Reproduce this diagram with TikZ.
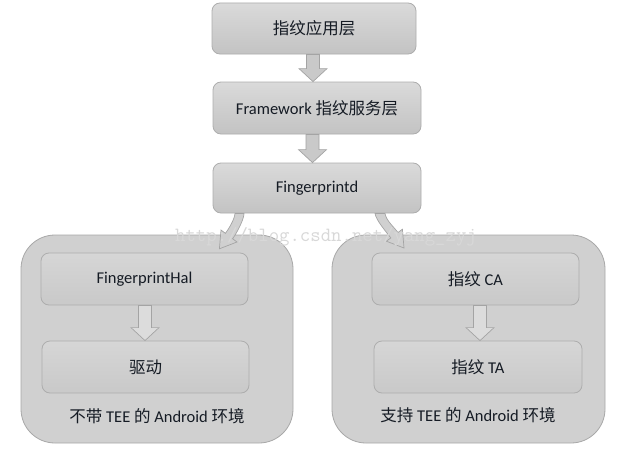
\documentclass[tikz,border=0pt]{standalone}
\usepackage{fontspec}
\setmainfont{Carlito}
\newfontfamily\cjk{Noto Sans CJK SC}
\usetikzlibrary{calc}
\definecolor{txt}{HTML}{151B24}
\definecolor{boxline}{HTML}{ADADAD}
\definecolor{boxtop}{HTML}{DADADA}
\definecolor{boxbot}{HTML}{C3C3C3}
\definecolor{contfill}{HTML}{D0D0D0}
\definecolor{contline}{HTML}{A8A8A8}
\definecolor{intop}{HTML}{D6D6D6}
\definecolor{inbot}{HTML}{C9C9C9}
\definecolor{arrfill}{HTML}{C9C9C9}
\definecolor{arrline}{HTML}{A4A4A4}
\definecolor{inarrfill}{HTML}{DCDCDC}
\definecolor{wm}{HTML}{D8D8D8}
% block arrow from #1.south to #2.north with x offset #3 and style #4
\newcommand\blockarr[4]{%
  \path[#4] let \p1=($(#1.south)+(#3,0)$), \p2=(#2.north) in
    (\x1-6.5pt,\y1) -- (\x1+6.5pt,\y1) -- (\x1+6.5pt,\y2+13pt) -- (\x1+14pt,\y2+13pt)
    -- (\x1,\y2) -- (\x1-14pt,\y2+13pt) -- (\x1-6.5pt,\y2+13pt) -- cycle;}
\begin{document}
\begin{tikzpicture}[x=1pt,y=-1pt,
  lbl/.style={text=txt,font=\fontsize{16.5}{19}\selectfont},
  topbox/.style={draw=boxline,line width=0.8pt,rounded corners=8pt,top color=boxtop,bottom color=boxbot,
    inner sep=0pt,lbl},
  inbox/.style={draw=boxline,line width=0.8pt,rounded corners=8pt,top color=intop,bottom color=inbot,
    inner sep=0pt,lbl},
  cont/.style={draw=contline,line width=0.8pt,rounded corners=34pt,fill=contfill,inner sep=0pt},
  barrow/.style={fill=arrfill,draw=arrline,line width=0.7pt,line join=miter},
  inbarrow/.style={fill=inarrfill,draw=arrline,line width=0.7pt,line join=miter},
  carrow/.style={fill=contfill,draw=arrline,line width=0.7pt,line join=miter}]
\useasboundingbox[fill=white] (0,0) rectangle (628,452);

% top column
\node[topbox,minimum width=204pt,minimum height=51pt] (app) at (314,28.5) {{\cjk 指纹应用层}};
\node[topbox,minimum width=208pt,minimum height=52pt] (fw) at (317,108) {Framework {\cjk 指纹服务层}};
\node[topbox,minimum width=208pt,minimum height=50pt] (fpd) at (317,188) {Fingerprintd};
\blockarr{app}{fw}{-1pt}{barrow}
\blockarr{fw}{fpd}{-4.5pt}{barrow}

% containers
\node[cont,minimum width=272pt,minimum height=208pt] (left) at (157,339) {};
\node[cont,minimum width=273pt,minimum height=208pt] (right) at (468.5,339) {};

% inner boxes
\node[inbox,minimum width=207pt,minimum height=52pt] (hal) at (144.5,279) {FingerprintHal};
\node[inbox,minimum width=207pt,minimum height=52pt] (drv) at (145.5,367) {{\cjk 驱动}};
\node[inbox,minimum width=207pt,minimum height=52pt] (ca) at (475.5,279) {{\cjk 指纹} CA};
\node[inbox,minimum width=208pt,minimum height=52pt] (ta) at (478,367) {{\cjk 指纹} TA};
\blockarr{hal}{drv}{0.5pt}{inbarrow}
\blockarr{ca}{ta}{4.5pt}{inbarrow}

\node[lbl] (leftlbl) at (157,416) {{\cjk 不带} TEE {\cjk 的} Android {\cjk 环境}};
\node[lbl] (rightlbl) at (468,415) {{\cjk 支持} TEE {\cjk 的} Android {\cjk 环境}};

% curved arrows from Fingerprintd to the two containers
\coordinate (la) at ($(fpd.south)+(-77.5,0)$);
\coordinate (ra) at ($(fpd.south)+(63,0)$);
\path[carrow] ($(la)+(-4.5,0)$) .. controls ($(la)+(-5,6)$) and (229,228.5) .. (225.4,233.3)
  -- (221,230) -- (219.4,248.8) -- (237,242) -- (232.6,238.7)
  .. controls (236.8,233.1) and ($(la)+(4.5,6)$) .. ($(la)+(4.5,0)$) -- cycle;
\path[carrow] ($(ra)+(-5,0)$) .. controls ($(ra)+(-4,7)$) and (387.2,233.1) .. (390.8,237.9)
  -- (386.4,241.2) -- (404,248) -- (402.4,229.2) -- (398,232.5)
  .. controls (393.8,226.9) and ($(ra)+(6,7)$) .. ($(ra)+(5,0)$) -- cycle;

% watermark
\node[text=wm,font=\ttfamily\fontsize{20.2}{22}\selectfont,inner sep=0pt] (wmark) at (326,237) {http://blog.csdn.net/yang\_zyj};
\end{tikzpicture}
\end{document}
